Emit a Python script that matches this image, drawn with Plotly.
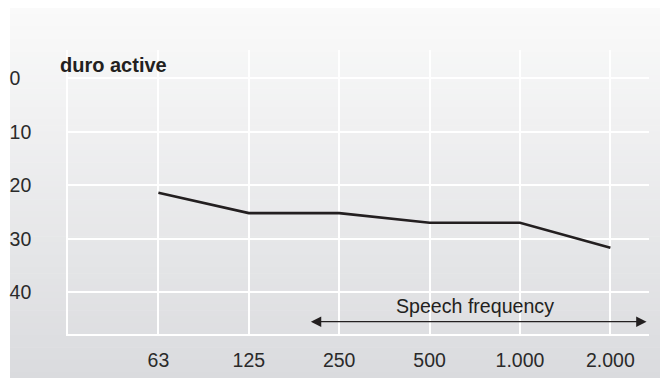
import plotly.graph_objects as go

# ---- data ----
frequencies = ["63", "125", "250", "500", "1.000", "2.000"]
attenuation_db = [21.4, 25.2, 25.2, 27.0, 27.0, 31.7]
y_ticks = [0, 10, 20, 30, 40]
y_tick_labels = ["0\u2007", "10", "20", "30", "40"]
series_name = "duro active"
speech_label = "Speech frequency"
speech_span = [2.67, 6.40]   # in category-index units
speech_level = 45.5

# ---- layout geometry (page has an 8px body margin) ----
W, H = 660, 370
ML, MR, MT, MB = 60, 19, 42, 44
PW, PH = W - ML - MR, H - MT - MB
OFF = 8

def px2x(px):
    return (px - OFF - ML) / PW

def py2y(py):
    return (H - MB - (py - OFF)) / PH

x_idx = list(range(1, len(frequencies) + 1))

fig = go.Figure()
fig.add_trace(go.Scatter(
    x=x_idx, y=attenuation_db, mode="lines",
    line=dict(color="#231f20", width=2.6),
    showlegend=False, hoverinfo="skip",
))

# gradient background made of thin bands
shapes = []
n = 60
c0 = (250, 250, 250)
c1 = (218, 219, 222)
for i in range(n):
    t = (i + 0.5) / n
    c = tuple(round(c0[k] + (c1[k] - c0[k]) * t) for k in range(3))
    y_top = OFF + i * H / n
    y_bot = OFF + (i + 1) * H / n + 0.6
    shapes.append(dict(
        type="rect", xref="paper", yref="paper", layer="below",
        x0=px2x(OFF), x1=px2x(OFF + W), y0=py2y(y_bot), y1=py2y(y_top),
        fillcolor="rgb(%d,%d,%d)" % c, line=dict(width=0),
    ))
shapes.append(dict(
    type="rect", xref="paper", yref="paper", layer="below",
    x0=px2x(OFF), x1=px2x(10), y0=py2y(OFF + H), y1=py2y(OFF),
    fillcolor="#ffffff", line=dict(width=0),
))

annotations = [
    dict(text="<b>%s</b>" % series_name, xref="paper", yref="paper",
         x=px2x(58), y=py2y(65), xanchor="left", yanchor="middle",
         showarrow=False, font=dict(size=20, color="#231f20",
                                    family="Liberation Sans, Arial, sans-serif")),
    dict(text=speech_label, x=(speech_span[0] + speech_span[1]) / 2 - 0.03,
         y=speech_level - 2.9, xref="x", yref="y",
         xanchor="center", yanchor="middle", showarrow=False,
         font=dict(size=19.6, color="#231f20",
                   family="Liberation Sans, Arial, sans-serif")),
    dict(text="", x=speech_span[1], y=speech_level, ax=speech_span[0], ay=speech_level,
         xref="x", yref="y", axref="x", ayref="y",
         showarrow=True, arrowhead=2, startarrowhead=2, arrowside="end+start",
         arrowsize=1.6, startarrowsize=1.6, arrowwidth=1.3, arrowcolor="#231f20",
         standoff=0, startstandoff=0),
]

fig.update_layout(
    width=W, height=H,
    margin=dict(l=ML, r=MR, t=MT, b=MB, pad=0),
    paper_bgcolor="rgba(0,0,0,0)",
    plot_bgcolor="rgba(0,0,0,0)",
    font=dict(family="Liberation Sans, Arial, sans-serif", size=19.5, color="#2a2a2a"),
    shapes=shapes,
    annotations=annotations,
    showlegend=False,
)
fig.update_xaxes(
    range=[0, PW / 90.4], automargin=False,
    tickvals=[0] + x_idx, ticktext=[""] + frequencies,
    showgrid=True, gridcolor="#ffffff", gridwidth=1.6,
    zeroline=False, showline=True, linecolor="#ffffff", linewidth=1.6,
    ticks="", ticklabelstandoff=8, fixedrange=True,
)
fig.update_yaxes(
    range=[47.8, -5.29], automargin=False,
    tickvals=y_ticks, ticktext=y_tick_labels,
    showgrid=True, gridcolor="#ffffff", gridwidth=1.6,
    zeroline=False, showline=True, linecolor="#ffffff", linewidth=1.6,
    ticks="", ticklabelstandoff=31, fixedrange=True,
)

fig.write_html("out.html")
